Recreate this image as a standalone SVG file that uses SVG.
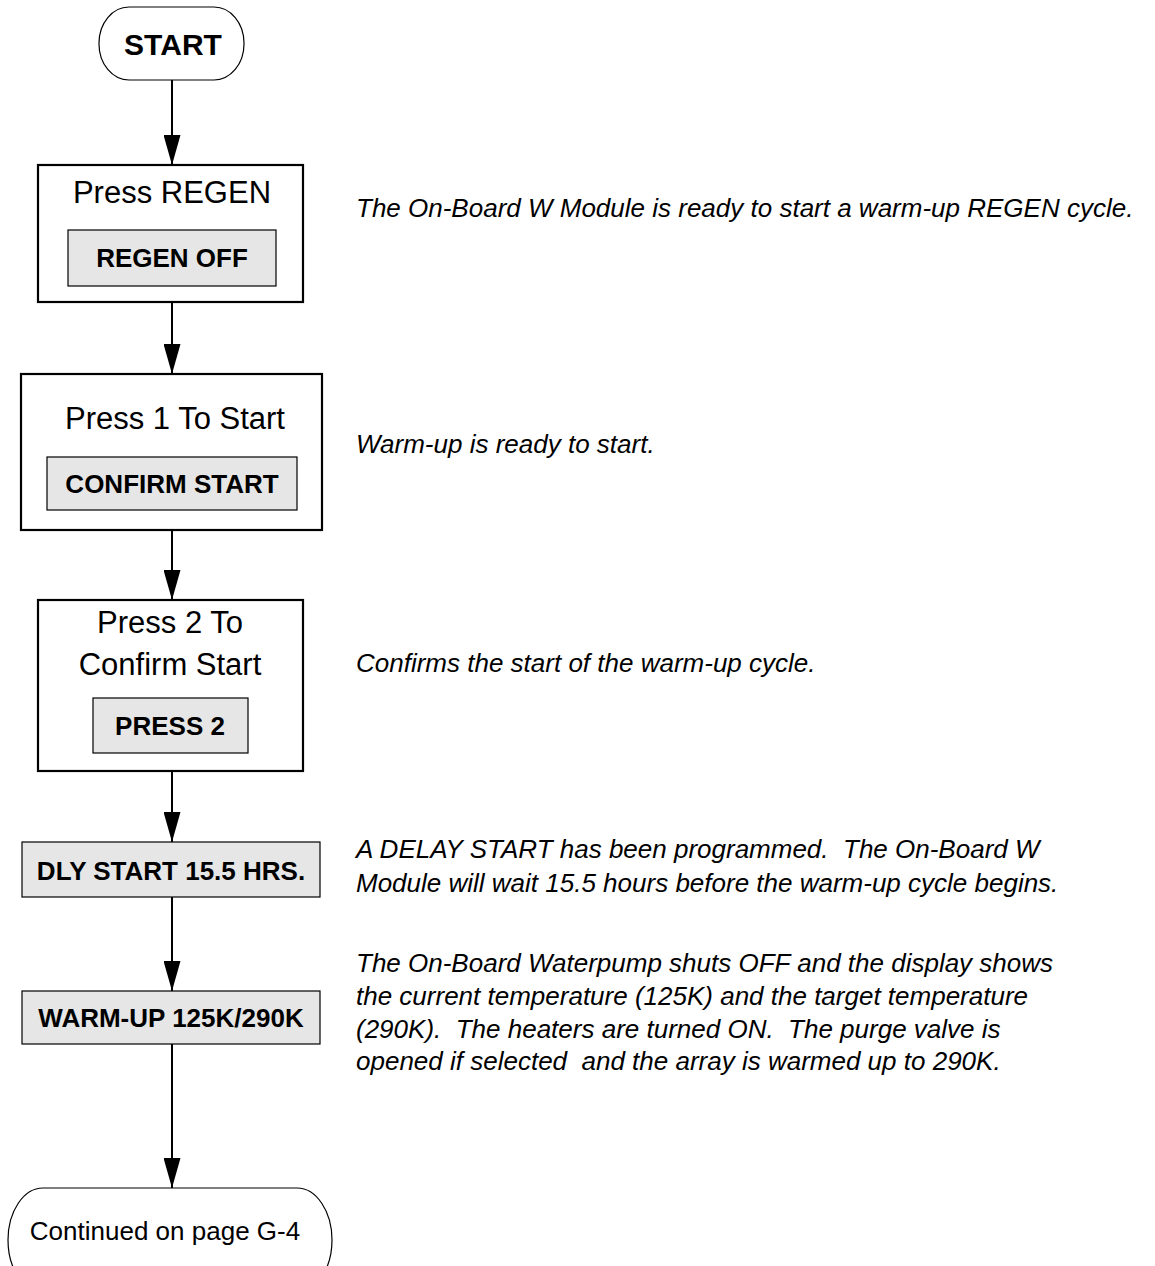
<svg xmlns="http://www.w3.org/2000/svg" width="1155" height="1266" viewBox="0 0 1155 1266">
<style>
.term{fill:#fff;stroke:#000;stroke-width:1.2}
.box{fill:#fff;stroke:#000;stroke-width:2.2}
.disp{fill:#e6e6e6;stroke:#000;stroke-width:1.2}
.lbl{font-family:"Liberation Sans",Arial,sans-serif;font-size:31px;text-anchor:middle;fill:#000}
.bold{font-family:"Liberation Sans",Arial,sans-serif;font-size:26px;font-weight:bold;text-anchor:middle;fill:#000}
.desc{font-family:"Liberation Sans",Arial,sans-serif;font-size:26px;font-style:italic;fill:#000}
.conn{stroke:#000;stroke-width:2;fill:none}
</style>
<defs>
<marker id="ah" markerWidth="30" markerHeight="17" refX="30" refY="8.5" orient="auto" markerUnits="userSpaceOnUse" viewBox="0 0 30 17">
<path d="M0,0 L30,8.5 L0,17 Z" fill="#000"/>
</marker>
</defs>
<g id="connectors">
<line class="conn" x1="172" y1="80" x2="172" y2="165" marker-end="url(#ah)"/>
<line class="conn" x1="172" y1="302" x2="172" y2="374" marker-end="url(#ah)"/>
<line class="conn" x1="172" y1="530" x2="172" y2="600" marker-end="url(#ah)"/>
<line class="conn" x1="172" y1="771" x2="172" y2="842" marker-end="url(#ah)"/>
<line class="conn" x1="172" y1="897" x2="172" y2="991" marker-end="url(#ah)"/>
<line class="conn" x1="172" y1="1044" x2="172" y2="1188" marker-end="url(#ah)"/>
</g>
<g id="start">
<rect class="term" x="99" y="7" width="145" height="73" rx="30" ry="36"/>
<text class="bold" x="173" y="55" style="font-size:30px">START</text>
</g>
<g id="press-regen">
<rect class="box" x="38" y="165" width="265" height="137"/>
<text class="lbl" x="172" y="203">Press REGEN</text>
<rect class="disp" x="68" y="230" width="208" height="56"/>
<text class="bold" x="172" y="267">REGEN OFF</text>
</g>
<g id="press-1">
<rect class="box" x="21" y="374" width="301" height="156"/>
<text class="lbl" x="175" y="429">Press 1 To Start</text>
<rect class="disp" x="47" y="457" width="250" height="53"/>
<text class="bold" x="172" y="493">CONFIRM START</text>
</g>
<g id="press-2">
<rect class="box" x="38" y="600" width="265" height="171"/>
<text class="lbl" x="170" y="633">Press 2 To</text>
<text class="lbl" x="170" y="675">Confirm Start</text>
<rect class="disp" x="93" y="698" width="155" height="55"/>
<text class="bold" x="170" y="735">PRESS 2</text>
</g>
<g id="dly-start">
<rect class="disp" x="22" y="842" width="298" height="55"/>
<text class="bold" x="171" y="880">DLY START 15.5 HRS.</text>
</g>
<g id="warm-up">
<rect class="disp" x="22" y="991" width="298" height="53"/>
<text class="bold" x="171" y="1027">WARM-UP 125K/290K</text>
</g>
<g id="continued">
<rect class="term" x="8" y="1188" width="324" height="104" rx="35" ry="52"/>
<text class="lbl" x="165" y="1240" style="font-size:26px">Continued on page G-4</text>
</g>
<g id="descriptions">
<text class="desc" x="356" y="217">The On-Board W Module is ready to start a warm-up REGEN cycle.</text>
<text class="desc" x="356" y="453">Warm-up is ready to start.</text>
<text class="desc" x="356" y="672">Confirms the start of the warm-up cycle.</text>
<text class="desc" x="356" y="858" xml:space="preserve">A DELAY START has been programmed.  The On-Board W</text>
<text class="desc" x="356" y="892">Module will wait 15.5 hours before the warm-up cycle begins.</text>
<text class="desc" x="356" y="972">The On-Board Waterpump shuts OFF and the display shows</text>
<text class="desc" x="356" y="1005">the current temperature (125K) and the target temperature</text>
<text class="desc" x="356" y="1038" xml:space="preserve">(290K).  The heaters are turned ON.  The purge valve is</text>
<text class="desc" x="356" y="1070" xml:space="preserve">opened if selected  and the array is warmed up to 290K.</text>
</g>
</svg>
